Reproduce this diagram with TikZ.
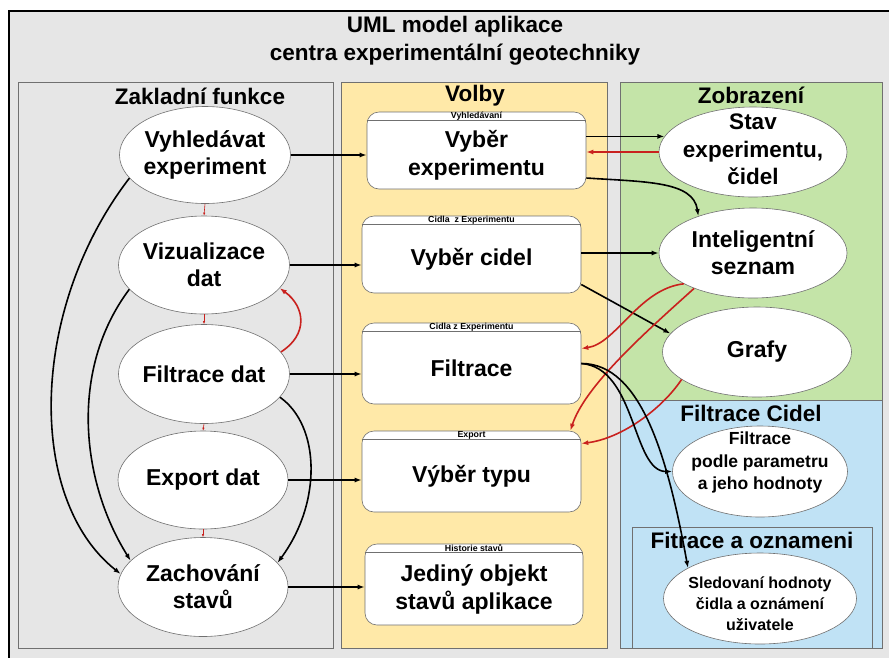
\documentclass[tikz,border=0pt]{standalone}
\usepackage{fontspec}
\setmainfont{Liberation Sans}
\usetikzlibrary{shapes.geometric}
\usetikzlibrary{arrows.meta}

\definecolor{sediva}{HTML}{E6E6E6}
\definecolor{zluta}{HTML}{FFE9A8}
\definecolor{zelena}{HTML}{C4E4A8}
\definecolor{modra}{HTML}{C0E2F5}
\definecolor{cervena}{HTML}{C9211E}
\definecolor{okraj}{HTML}{707070}

\tikzset{
  panel/.style={draw=okraj,line width=0.8pt},
  nadpis/.style={font=\fontsize{22.5}{28.5}\selectfont\bfseries,inner sep=0pt,align=center},
  pripad/.style={ellipse,draw=okraj,fill=white,line width=0.6pt,inner sep=-20pt,align=center,
    font=\fontsize{23}{27}\selectfont\bfseries},
  volba/.style={rectangle,rounded corners=12pt,draw=okraj,fill=white,line width=0.6pt,
    minimum width=219pt,minimum height=77pt,inner sep=0pt},
  popis/.style={inner sep=0pt,align=center,font=\fontsize{23}{28}\selectfont\bfseries},
  hlavicka/.style={font=\fontsize{8.8}{9}\selectfont\bfseries,inner sep=0.6pt,anchor=north},
  tok/.style={line width=1.6pt,-{Latex[length=7pt,width=5pt]}},
  zpet/.style={cervena,line width=1.6pt,-{Latex[length=7pt,width=5pt]}},
  kratka/.style={cervena,line width=0.6pt,-{Latex[length=3pt,width=2.4pt]}}
}

\begin{document}
\begin{tikzpicture}[x=1pt,y=-1pt]
		\useasboundingbox (0,0) rectangle (889,657);
		\clip (0,0) rectangle (889,657);
		% ramecek a nazev
		\draw[fill=sediva,line width=1.5pt] (9,11) rectangle (905,675);
		\node[nadpis] (nazev) at (455,40.5) {UML model aplikace\\centra experimentální geotechniky};
		% sloupce
		\draw[panel,fill=sediva] (18,82) rectangle (333,648);
		\draw[panel,fill=zluta] (341,82) rectangle (607,648);
		\draw[panel,fill=zelena] (620,82) rectangle (882,400);
		\draw[panel,fill=modra] (620,400) rectangle (882,648);
		\draw[panel,fill=modra] (632,527) rectangle (872,648);
		\node[nadpis] (zaklad) at (200,96) {Zakladní funkce};
		\node[nadpis] (volby) at (475,96) {Volby};
		\node[nadpis] (zobraz) at (751,95) {Zobrazení};
		\node[nadpis] (filtCidel) at (751,413) {Filtrace Cidel};
		\node[nadpis] (oznam) at (752,540) {Fitrace a oznameni};
		% zakladni funkce
		\node[pripad,minimum width=171pt,minimum height=97pt] (vyhl) at (205,155) {Vyhledávat\\experiment};
		\node[pripad,minimum width=171pt,minimum height=98pt] (viz) at (204,265) {Vizualizace\\dat};
		\node[pripad,minimum width=171pt,minimum height=99pt] (filt) at (204,374) {Filtrace dat};
		\node[pripad,minimum width=170pt,minimum height=98pt] (export) at (203,480) {Export dat};
		\node[pripad,minimum width=170pt,minimum height=99pt] (zach) at (203,587) {Zachování\\stavů};
		% volby
		\node[volba] (vyberExp) at (476.5,150.5) {};
		\node[volba] (vyberCid) at (471.5,254.5) {};
		\node[volba,minimum height=81pt] (filtrace) at (471.5,363.5) {};
		\node[volba,minimum height=81pt] (typ) at (471.5,471.5) {};
		\node[volba,minimum width=218pt,minimum height=81pt] (objekt) at (474,584.5) {};
		\foreach \b/\t/\m in {vyberExp/Vyhledávaní/{Vyběr\\experimentu},
				vyberCid/Cidla\ \ z Experimentu/Vyběr cidel,
				filtrace/Cidla z Experimentu/Filtrace,
				typ/Export/Výběr typu,
				objekt/Historie stavů/{Jediný objekt\\stavů aplikace}}{
			\draw[draw=okraj,line width=0.6pt] ([yshift=-9pt]\b.north west) -- ([yshift=-9pt]\b.north east);
			\node[hlavicka] (\b-h) at (\b.north) {\t};
			\node[popis] (\b-t) at ([yshift=-4.5pt]\b.center) {\m};
		}
		% zobrazeni a filtrace
		\node[pripad,minimum width=188pt,minimum height=90pt] (stav) at (753,152) {};
		\node[popis,font=\fontsize{22.5}{27.5}\selectfont\bfseries] (stav-t) at ([yshift=2.5pt]stav.center) {Stav\\experimentu,\\čidel};
		\node[pripad,minimum width=188pt,minimum height=90pt] (intel) at (753,253) {Inteligentní\\seznam};
		\node[pripad,minimum width=189pt,minimum height=90pt] (grafy) at (757,352) {Grafy};
		\node[pripad,minimum width=175pt,minimum height=91pt] (podle) at (760,471.5) {};
		\node[popis,font=\fontsize{17.5}{22.5}\selectfont\bfseries] (podle-t) at ([yshift=9pt]podle.center) {Filtrace\\podle parametru\\a jeho hodnoty};
		\node[pripad,minimum width=193pt,minimum height=91pt] (sled) at (760,598.5) {};
		\node[popis,font=\fontsize{16}{21}\selectfont\bfseries] (sled-t) at ([yshift=-5pt]sled.center) {Sledovaní hodnoty\\čidla a oznámení\\uživatele};
		% sipky zakladni -> volby
		\draw[tok] (vyhl.east) -- (vyhl.east -| vyberExp.west);
		\draw[tok] (viz.east) -- (viz.east -| vyberCid.west);
		\draw[tok] (filt.east) -- (filt.east -| filtrace.west);
		\draw[tok] (export.east) -- (export.east -| typ.west);
		\draw[tok] (zach.east) -- (zach.east -| objekt.west);
		% zachovani stavu
		\draw[tok] (vyhl.197) .. controls +(-100,130) and +(-95,-75) .. (zach.171);
		\draw[tok] (viz.198) .. controls +(-60,80) and +(-50,-80) .. (zach.160);
		\draw[tok] (filt.-17) .. controls +(40,28) and +(45,-61) .. (zach.18);
		\draw[zpet] (filt.16) .. controls +(27,-17) and +(26,19) .. (viz.-17);
		\foreach \a/\b in {vyhl/viz,viz/filt,filt/export,export/zach}{
			\draw[kratka] (\a.south) -- (\b.north);
		}
		% volby -> zobrazeni
		\draw[tok] (vyberExp.east |- stav.170) -- (stav.170);
		\draw[zpet] (stav.west) -- (stav.west -| vyberExp.east);
		\draw[tok] ([yshift=-27.5pt]vyberExp.east) .. controls +(60,4) and +(-5,-35) .. (intel.146);
		\draw[tok] (vyberCid.east |- intel.west) -- (intel.west);
		\draw[tok] ([yshift=-30pt]vyberCid.east) -- (grafy.168);
		\draw[zpet] (intel.204) .. controls +(-45,5) and +(35,-5) .. ([yshift=15pt]filtrace.east);
		\draw[zpet] (intel.211) .. controls +(-50,45) and +(15,-45) .. ([xshift=-11pt]typ.north east);
		\draw[zpet] (grafy.200) .. controls +(-20,30) and +(40,-5) .. ([yshift=28pt]typ.east);
		% filtrace -> filtrace cidel
		\draw[tok] (filtrace.east) .. controls +(55,4) and +(-40,0) .. (podle.west);
		\draw[tok] (filtrace.east) .. controls +(60,0) and +(-20,-110) .. (sled.157);
\end{tikzpicture}
\end{document}
